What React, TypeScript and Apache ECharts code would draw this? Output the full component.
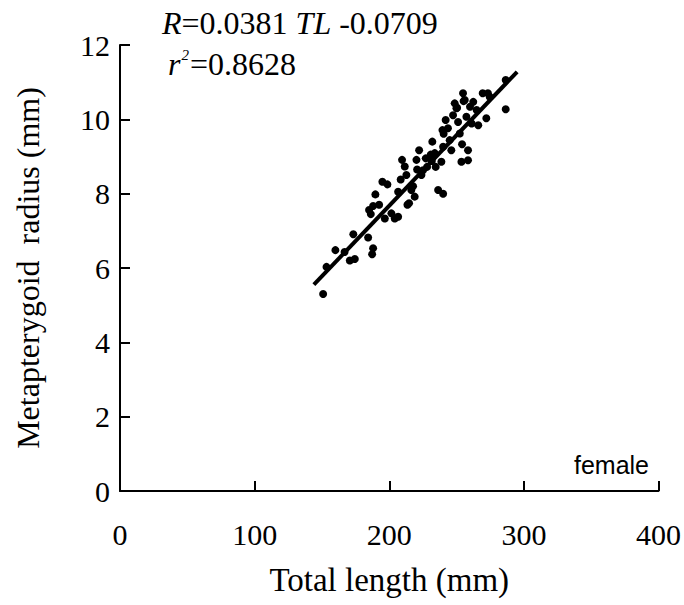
import React, { useEffect, useRef } from "react";
import * as echarts from "echarts";

const tlValues = [
  150.9, 153.4, 173.3, 170.7, 174.4, 184.3, 188.0, 187.3, 185.0, 186.3,
  188.0, 192.5, 189.7, 194.9, 198.6, 196.7, 201.6, 204.1, 206.6, 208.5,
  209.5, 211.5, 212.7, 213.5, 214.7, 216.4, 217.7, 218.9, 220.7, 222.2,
  223.9, 225.1, 227.1, 228.1, 230.8, 232.0, 233.8, 234.5, 236.3, 240.0,
  238.7, 240.0, 239.5, 240.4, 241.9, 243.6, 244.9, 246.1, 247.4, 248.6,
  249.9, 251.1, 252.4, 253.6, 254.1, 254.8, 256.1, 257.3, 258.5, 258.5,
  260.0, 261.2, 262.4, 264.9, 266.1, 269.4, 272.1, 273.3, 274.6, 286.5,
  286.5, 220.2, 206.6, 160.0, 166.8, 255.2, 250.4, 231.6,
];
const rValues = [
  5.30, 6.03, 6.91, 6.20, 6.24, 6.82, 6.53, 6.37, 7.56, 7.45,
  7.67, 7.70, 7.98, 8.32, 8.25, 7.33, 7.47, 7.33, 7.38, 8.38,
  8.91, 8.73, 8.50, 7.70, 7.74, 8.10, 8.20, 7.92, 8.65, 9.17,
  8.50, 8.63, 8.95, 8.72, 9.05, 9.40, 9.09, 8.72, 8.10, 8.00,
  8.86, 9.26, 9.71, 9.61, 9.98, 9.76, 9.44, 9.17, 10.11, 10.43,
  10.30, 9.93, 9.62, 8.86, 9.33, 10.70, 10.52, 10.07, 9.17, 8.90,
  10.34, 9.89, 10.47, 10.25, 9.84, 10.70, 10.03, 10.70, 10.61, 11.06,
  10.27, 8.91, 8.05, 6.48, 6.43, 10.49, 10.31, 8.88,
];
const fitTL = [144, 295];
const fitR = [5.55, 11.28];

const xTicks = { min: 0, max: 400, interval: 100 };
const yTicks = { min: 0, max: 12, interval: 2 };

const SERIF = "'Liberation Serif', 'DejaVu Serif', serif";

export default function App() {
  const ref = useRef<HTMLDivElement>(null);
  useEffect(() => {
    if (!ref.current) return;
    const chart = echarts.init(ref.current, undefined, { renderer: "svg" });
    const points = tlValues.map((x, i) => [x, rValues[i]]);
    const fit = fitTL.map((x, i) => [x, fitR[i]]);
    chart.setOption({
      animation: false,
      backgroundColor: "#ffffff",
      grid: { left: 120, right: 25, top: 45, bottom: 114, containLabel: false },
      xAxis: {
        type: "value",
        min: xTicks.min,
        max: xTicks.max,
        interval: xTicks.interval,
        name: "Total length (mm)",
        nameLocation: "middle",
        nameGap: 72,
        nameTextStyle: { fontFamily: SERIF, fontSize: 33, color: "#000" },
        axisLine: { show: true, lineStyle: { color: "#000", width: 2 } },
        axisTick: { show: true, inside: true, length: 10, lineStyle: { color: "#000", width: 2 } },
        axisLabel: { fontFamily: SERIF, fontSize: 30, color: "#000", margin: 28 },
        splitLine: { show: false },
      },
      yAxis: {
        type: "value",
        min: yTicks.min,
        max: yTicks.max,
        interval: yTicks.interval,
        name: "Metapterygoid  radius (mm)",
        nameLocation: "middle",
        nameGap: 76,
        nameTextStyle: { fontFamily: SERIF, fontSize: 32, color: "#000" },
        axisLine: { show: true, lineStyle: { color: "#000", width: 2 } },
        axisTick: { show: true, inside: true, length: 10, lineStyle: { color: "#000", width: 2 } },
        axisLabel: { fontFamily: SERIF, fontSize: 30, color: "#000", margin: 10 },
        splitLine: { show: false },
      },
      series: [
        {
          type: "scatter",
          data: points,
          symbol: "circle",
          symbolSize: 8,
          itemStyle: { color: "#000", opacity: 1 },
          z: 3,
        },
        {
          type: "line",
          data: fit,
          showSymbol: false,
          symbol: "none",
          lineStyle: { color: "#000", width: 4 },
          z: 2,
        },
      ],
      graphic: [
        {
          type: "text",
          left: 162,
          top: 7,
          style: {
            text: "{i|R}{n|=0.0381 }{i|TL}{n| -0.0709}",
            rich: {
              i: { fontFamily: SERIF, fontSize: 32, fontStyle: "italic", fill: "#000" },
              n: { fontFamily: SERIF, fontSize: 32, fill: "#000" },
            },
          },
        },
        {
          type: "text",
          left: 168,
          top: 47,
          style: {
            text: "{i|r}{s|2}{n|=0.8628}",
            rich: {
              i: { fontFamily: SERIF, fontSize: 32, fontStyle: "italic", fill: "#000", lineHeight: 34 },
              s: { fontFamily: SERIF, fontSize: 15, fontStyle: "italic", fill: "#000", verticalAlign: "top", lineHeight: 34, padding: [0, 1, 0, 1] },
              n: { fontFamily: SERIF, fontSize: 32, fill: "#000", lineHeight: 34 },
            },
          },
        },
        {
          type: "text",
          right: 35,
          top: 452,
          style: {
            text: "female",
            fontFamily: "'Liberation Sans', Arial, sans-serif",
            fontSize: 25,
            fill: "#000",
          },
        },
      ],
    });
    return () => chart.dispose();
  }, []);
  return (
    <div
      ref={ref}
      style={{ position: "absolute", left: 0, top: 0, width: 684, height: 605 }}
    />
  );
}
